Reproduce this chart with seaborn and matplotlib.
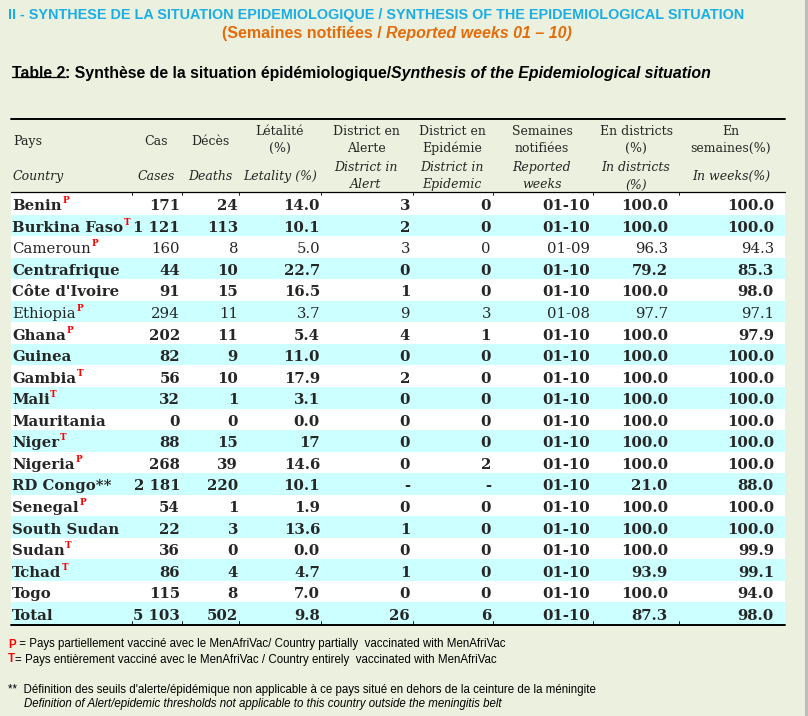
import matplotlib
matplotlib.use("Agg")
import matplotlib.pyplot as plt
import seaborn as sns
import numpy as np
import pandas as pd
from matplotlib.colors import ListedColormap
from matplotlib import font_manager

# ---- table data ----
countries = ["Benin", "Burkina Faso", "Cameroun", "Centrafrique", "Côte d'Ivoire",
             "Ethiopia", "Ghana", "Guinea", "Gambia", "Mali", "Mauritania", "Niger",
             "Nigeria", "RD Congo**", "Senegal", "South Sudan", "Sudan", "Tchad",
             "Togo", "Total"]
vacc_marks = ["P", "T", "P", "", "", "P", "P", "", "T", "T", "", "T", "P", "",
              "P", "", "T", "T", "", ""]
cases = ["171", "1 121", "160", "44", "91", "294", "202", "82", "56", "32", "0",
         "88", "268", "2 181", "54", "22", "36", "86", "115", "5 103"]
deaths = ["24", "113", "8", "10", "15", "11", "11", "9", "10", "1", "0", "15",
          "39", "220", "1", "3", "0", "4", "8", "502"]
letality = ["14.0", "10.1", "5.0", "22.7", "16.5", "3.7", "5.4", "11.0", "17.9",
            "3.1", "0.0", "17", "14.6", "10.1", "1.9", "13.6", "0.0", "4.7", "7.0", "9.8"]
districts_alert = ["3", "2", "3", "0", "1", "9", "4", "0", "2", "0", "0", "0", "0",
                   "-", "0", "1", "0", "1", "0", "26"]
districts_epidemic = ["0", "0", "0", "0", "0", "3", "1", "0", "0", "0", "0", "0", "2",
                      "-", "0", "0", "0", "0", "0", "6"]
weeks_reported = ["01-10", "01-10", "01-09", "01-10", "01-10", "01-08", "01-10",
                  "01-10", "01-10", "01-10", "01-10", "01-10", "01-10", "01-10",
                  "01-10", "01-10", "01-10", "01-10", "01-10", "01-10"]
pct_districts = ["100.0", "100.0", "96.3", "79.2", "100.0", "97.7", "100.0", "100.0",
                 "100.0", "100.0", "100.0", "100.0", "100.0", "21.0", "100.0", "100.0",
                 "100.0", "93.9", "100.0", "87.3"]
pct_weeks = ["100.0", "100.0", "94.3", "85.3", "98.0", "97.1", "97.9", "100.0",
             "100.0", "100.0", "100.0", "100.0", "100.0", "88.0", "100.0", "100.0",
             "99.9", "99.1", "94.0", "98.0"]
plain_rows = ["Cameroun", "Ethiopia"]

df = pd.DataFrame({
    "country": countries, "mark": vacc_marks, "cases": cases, "deaths": deaths,
    "letality": letality, "alert": districts_alert, "epidemic": districts_epidemic,
    "weeks": weeks_reported, "pct_d": pct_districts, "pct_w": pct_weeks,
})

# ---- styling ----
sns.set_theme(style="white")
installed = {f.name for f in font_manager.fontManager.ttflist}
SERIF = ["DejaVu Serif"]
NARROW = ["Liberation Sans Narrow", "DejaVu Sans"] if "Liberation Sans Narrow" in installed \
    else ["Liberation Sans", "DejaVu Sans"]
PAGE = "#EBF1DE"
STRIPE = "#CCFFFF"
BLUE = "#1AAEE6"
ORANGE = "#E46C0A"

W, H = 808, 716
fig = plt.figure(figsize=(W / 100, H / 100), dpi=100, facecolor=PAGE)
renderer = fig.canvas.get_renderer()

table_left, table_right = 11, 785
body_top, body_bottom = 193, 624
n_rows = len(df)
row_h = (body_bottom - body_top) / n_rows

# striped body drawn as a seaborn heatmap
ax_body = fig.add_axes([table_left / W, 1 - body_bottom / H,
                        (table_right - table_left) / W, (body_bottom - body_top) / H])
stripes = pd.DataFrame({"s": [i % 2 for i in range(n_rows)]})
sns.heatmap(stripes, cmap=ListedColormap(["white", STRIPE]), cbar=False,
            xticklabels=False, yticklabels=False, ax=ax_body)
ax_body.set_axis_off()

# overlay in pixel coordinates
ax = fig.add_axes([0, 0, 1, 1])
ax.set_xlim(0, W)
ax.set_ylim(H, 0)
ax.set_axis_off()
ax.patch.set_alpha(0)


def width_of(t):
    return t.get_window_extent(renderer=renderer).width


def fitted_size(s, family, weight, style, target):
    t = ax.text(0, 0, s, family=family, fontsize=10, fontweight=weight, fontstyle=style)
    w = width_of(t)
    t.remove()
    return 10 * target / w


def runs(x, y, parts, size, family, ha="left", underline_first=False):
    """parts: list of (text, weight, style, color)"""
    objs = []
    for s, wgt, sty, col in parts:
        objs.append(ax.text(0, y, s, family=family, fontsize=size, fontweight=wgt,
                            fontstyle=sty, color=col, va="center_baseline", ha="left"))
    widths = [width_of(o) for o in objs]
    total = sum(widths)
    start = x - total / 2 if ha == "center" else x
    cur = start
    for o, w in zip(objs, widths):
        o.set_x(cur)
        cur += w
    if underline_first:
        ax.plot([start, start + widths[0]], [y + 5, y + 5], color="black", lw=0.9)
    return objs


# ---- titles ----
title_txt = "II - SYNTHESE DE LA SITUATION EPIDEMIOLOGIQUE / SYNTHESIS OF THE EPIDEMIOLOGICAL SITUATION"
ts = fitted_size(title_txt, NARROW, "bold", "normal", 730)
runs(8, 13, [(title_txt, "bold", "normal", BLUE)], ts, NARROW)

sub_parts = [("(Semaines notifiées / ", "bold", "normal", ORANGE),
             ("Reported weeks 01 – 10)", "bold", "italic", ORANGE)]
runs(397, 32, sub_parts, ts * 1.12, NARROW, ha="center")

tab_parts = [("Table 2", "bold", "normal", "black"),
             (": Synthèse de la situation épidémiologique/", "bold", "normal", "black"),
             ("Synthesis of the Epidemiological situation", "bold", "italic", "black")]
ttl = fitted_size("Table 2: Synthèse de la situation épidémiologique/Synthesis of the Epidemiological situation",
                  NARROW, "bold", "normal", 700)
runs(12, 72, tab_parts, ttl, NARROW, underline_first=True)

# ---- table rules ----
ax.plot([table_left, table_right], [119, 119], color="black", lw=1.4)
ax.plot([table_left, table_right], [192, 192], color="black", lw=0.9)
ax.plot([table_left, table_right], [624.5, 624.5], color="black", lw=1.4)
for bx in [132, 182, 239, 321, 413, 493, 593, 679]:
    ax.plot([bx, bx], [192, 195], color="black", lw=0.6)
    ax.plot([bx, bx], [621, 624], color="black", lw=0.6)
ax.plot([807, 807], [0, H], color="#BDBDBD", lw=3)

# ---- header ----
hs = fitted_size("District en", SERIF, "normal", "normal", 67)
header_cols = [
    (156, [("Cas", 140, "normal")], [("Cases", 175, "italic")]),
    (210, [("Décès", 140, "normal")], [("Deaths", 175, "italic")]),
    (280, [("Létalité", 130, "normal"), ("(%)", 147, "normal")], [("Letality (%)", 175, "italic")]),
    (366, [("District en", 130, "normal"), ("Alerte", 147, "normal")],
     [("District in", 166, "italic"), ("Alert", 183, "italic")]),
    (452, [("District en", 130, "normal"), ("Epidémie", 147, "normal")],
     [("District in", 166, "italic"), ("Epidemic", 183, "italic")]),
    (542, [("Semaines", 130, "normal"), ("notifiées", 147, "normal")],
     [("Reported", 166, "italic"), ("weeks", 183, "italic")]),
    (636, [("En districts", 130, "normal"), ("(%)", 147, "normal")],
     [("In districts", 166, "italic"), ("(%)", 184, "italic")]),
    (731, [("En", 130, "normal"), ("semaines(%)", 147, "normal")], [("In weeks(%)", 175, "italic")]),
]
ax.text(13, 140, "Pays", family=SERIF, fontsize=hs, va="center_baseline", ha="left")
ax.text(13, 175, "Country", family=SERIF, fontsize=hs, fontstyle="italic",
        va="center_baseline", ha="left")
for cx, fr_lines, en_lines in header_cols:
    for s, yy, sty in fr_lines + en_lines:
        ax.text(cx, yy, s, family=SERIF, fontsize=hs, fontstyle=sty,
                va="center_baseline", ha="center")

# ---- body ----
bs = fitted_size("Burkina Faso", SERIF, "bold", "normal", 111)
num_cols = [("cases", 180), ("deaths", 238), ("letality", 320), ("alert", 410),
            ("epidemic", 491), ("weeks", 590), ("pct_d", 668), ("pct_w", 774)]
for i, row in df.iterrows():
    yc = body_top + (i + 0.5) * row_h + 1
    wgt = "normal" if row["country"] in plain_rows else "bold"
    name = ax.text(12, yc, row["country"], family=SERIF, fontsize=bs, fontweight=wgt,
                   va="center_baseline", ha="left")
    if row["mark"]:
        nx = 12 + width_of(name) + 0.5
        ax.text(nx, yc - 5, row["mark"], family=SERIF, fontsize=bs * 0.6,
                fontweight="bold", color="red", va="center_baseline", ha="left")
    for col, rx in num_cols:
        ax.text(rx, yc, row[col], family=SERIF, fontsize=bs, fontweight=wgt,
                va="center_baseline", ha="right")

# ---- footnotes ----
fn1 = "= Pays partiellement vacciné avec le MenAfriVac/ Country partially  vaccinated with MenAfriVac"
fs = fitted_size(fn1, NARROW, "normal", "normal", 488)
runs(8, 643, [("P", "bold", "normal", "red"), (" " + fn1, "normal", "normal", "black")], fs, NARROW)
runs(8, 658, [("T", "bold", "normal", "red"),
              ("= Pays entièrement vacciné avec le MenAfriVac / Country entirely  vaccinated with MenAfriVac",
               "normal", "normal", "black")], fs, NARROW)
runs(8, 688, [("**  Définition des seuils d'alerte/épidémique non applicable à ce pays situé en dehors de la ceinture de la méningite",
               "normal", "normal", "black")], fs, NARROW)
runs(24, 703, [("Definition of Alert/epidemic thresholds not applicable to this country outside the meningitis belt",
                "normal", "italic", "black")], fs, NARROW)

fig.savefig("out.png", dpi=100, facecolor=PAGE)
